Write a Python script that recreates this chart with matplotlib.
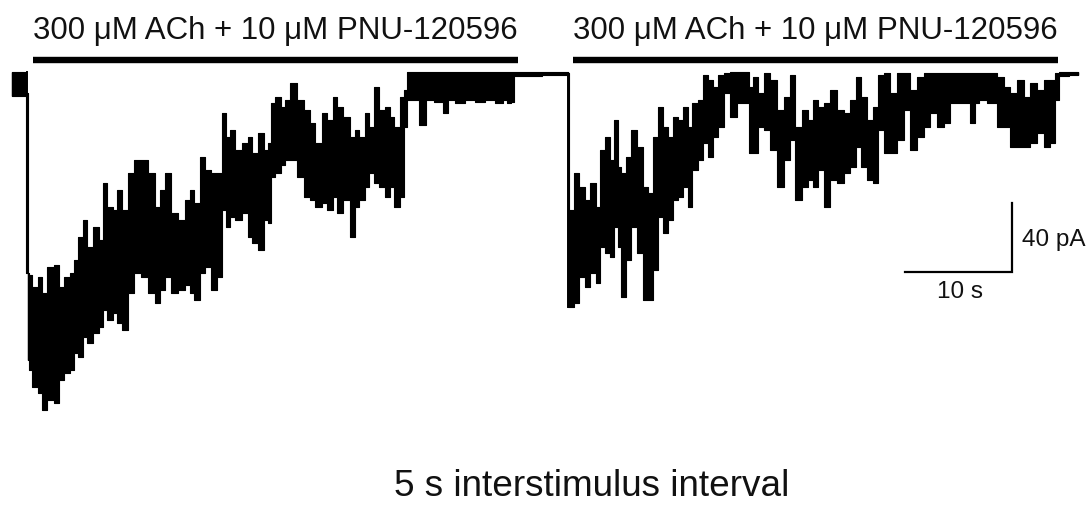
import matplotlib
matplotlib.use("Agg")
import matplotlib.pyplot as plt

# Sweep 1: time (s) and upper / lower envelope of the whole-cell current (pA)
t1 = [0.00, 1.31, 1.40, 1.50, 1.68, 2.15, 2.62, 3.08, 3.55, 4.21, 4.67, 5.14,
      5.61, 6.07, 6.36, 6.82, 7.29, 7.94, 8.41, 8.69, 9.16, 9.63, 10.09, 10.56,
      11.21, 11.68, 12.43, 13.08, 13.64, 14.11, 14.58, 15.23, 15.89, 16.36,
      16.82, 17.29, 17.76, 18.32, 18.97, 19.44, 19.72, 20.19, 20.65, 21.12,
      21.78, 22.24, 22.71, 23.18, 23.83, 24.11, 24.39, 24.86, 25.33, 25.70,
      26.26, 26.92, 27.57, 28.04, 28.60, 29.25, 29.72, 30.19, 30.65, 31.31,
      31.78, 32.24, 32.71, 33.18, 33.64, 34.11, 34.58, 35.05, 35.51, 35.98,
      36.45, 36.73, 37.01, 37.66, 38.41, 38.88, 40.00, 40.47, 40.93, 41.87,
      42.80, 43.74, 44.67, 45.61, 46.07, 46.54, 46.82, 47.01, 51.96]
hi1 = [0.6, 0.6, -11.6, -116.3, -117.4, -124.4, -118.6, -127.9, -112.8, -111.6,
       -124.4, -118.6, -116.3, -108.7, -95.3, -85.5, -101.2, -89.5, -97.1, -64.0,
       -77.9, -79.7, -68.0, -79.7, -58.1, -50.6, -50.6, -58.1, -77.9, -68.0,
       -58.1, -81.4, -85.5, -73.8, -68.0, -75.6, -48.8, -56.4, -58.1, -58.1,
       -23.3, -37.2, -33.1, -44.8, -40.7, -37.2, -46.5, -34.9, -44.8, -40.7,
       -17.4, -14.0, -19.8, -15.7, -5.8, -15.7, -21.5, -29.1, -40.7, -23.3,
       -27.3, -14.0, -19.8, -25.6, -37.2, -33.1, -37.2, -23.3, -31.4, -8.1,
       -21.5, -19.8, -25.6, -31.4, -14.0, -9.9, 0.6, 0.6, 0.6, 0.6,
       0.6, 0.6, 0.6, 0.6, 0.6, 0.6, 0.6, 0.6, 0.6, 0.6,
       0.6, 0.6, 0.6]
lo1 = [-13.4, -13.4, -116.3, -166.9, -172.7, -182.6, -186.0, -195.9, -190.1,
       -191.9, -178.5, -174.4, -172.7, -162.8, -165.1, -153.5, -157.0, -151.2,
       -147.7, -137.8, -143.6, -139.5, -145.3, -149.4, -127.9, -116.3, -118.6,
       -127.9, -133.7, -126.2, -118.6, -127.9, -126.2, -123.3, -127.9, -132.0,
       -116.3, -112.8, -126.2, -118.6, -79.7, -89.5, -83.7, -85.5, -81.4, -95.3,
       -98.8, -102.9, -85.5, -87.2, -60.5, -58.1, -53.5, -50.6, -50.6, -60.5,
       -72.1, -73.8, -77.9, -75.6, -79.7, -72.1, -81.4, -73.8, -95.3, -77.9,
       -73.8, -66.3, -58.1, -64.0, -66.3, -72.1, -66.3, -77.9, -72.1, -31.4,
       -15.7, -15.7, -30.2, -15.7, -16.9, -23.3, -15.7, -17.4, -15.7, -16.9,
       -15.7, -17.4, -15.7, -17.4, -16.9, -1.7, -1.2]

# Sweep 2: time (s) and upper / lower envelope of the whole-cell current (pA)
t2 = [51.96, 52.15, 52.80, 53.27, 53.74, 54.30, 54.77, 55.14, 55.61, 56.07,
      56.36, 56.82, 57.10, 57.57, 58.22, 58.69, 59.16, 59.63, 60.09, 60.56,
      61.03, 61.50, 61.96, 62.43, 62.90, 63.36, 63.83, 64.30, 64.77, 65.23,
      65.70, 66.17, 66.82, 67.38, 68.04, 68.69, 68.97, 69.44, 69.91, 70.56,
      71.12, 71.78, 72.43, 72.90, 73.46, 74.11, 74.58, 75.05, 75.51, 76.17,
      76.73, 77.38, 78.04, 78.60, 79.07, 79.53, 80.19, 80.65, 81.12, 81.78,
      82.34, 82.99, 83.64, 84.21, 84.86, 85.51, 86.07, 86.73, 87.38, 87.94,
      88.60, 89.25, 89.72, 90.19, 90.47, 91.68, 92.34, 92.99, 93.55, 94.21,
      94.86, 95.42, 96.07, 96.73, 97.29, 97.66, 97.94, 99.63]
hi2 = [0.0, -79.7, -58.1, -66.3, -73.8, -64.0, -77.9, -44.8, -37.2, -50.6,
       -27.3, -54.7, -58.1, -48.8, -33.1, -43.0, -66.3, -69.8, -37.2, -19.8,
       -31.4, -37.2, -25.6, -27.3, -19.8, -31.4, -17.4, -15.7, -1.2, -4.1,
       -8.1, -1.2, 0.0, 0.6, 0.6, 0.6, -8.1, -2.3, -11.6, 0.0,
       -4.1, -21.5, -14.0, -1.2, -31.4, -21.5, -27.3, -15.7, -19.8, -17.4,
       -9.9, -21.5, -23.3, -15.7, -2.3, -14.0, -27.3, -19.8, -1.2, 0.0,
       -11.6, 0.0, 0.0, -9.9, -2.3, 0.0, 0.0, 0.0, 0.0, 0.0,
       0.0, 0.0, 0.0, 0.0, 0.0, 0.0, -2.3, -8.1, -11.6, -4.1,
       -14.0, -5.8, -9.9, -4.1, -4.1, 0.0, 0.6, 0.6]
lo2 = [-136.0, -136.0, -133.7, -118.6, -124.4, -116.3, -122.1, -101.2, -104.7,
       -107.0, -89.5, -101.2, -130.2, -108.7, -89.5, -104.7, -132.0, -132.0,
       -114.5, -83.7, -93.0, -85.5, -73.8, -72.1, -66.3, -77.9, -56.4, -50.6,
       -40.7, -48.8, -37.2, -31.4, -11.6, -25.6, -17.4, -17.4, -46.5, -46.5,
       -31.4, -33.1, -44.8, -66.3, -50.6, -39.0, -73.8, -66.3, -62.2, -66.3,
       -56.4, -77.9, -62.2, -64.0, -58.1, -54.7, -43.0, -54.7, -62.2, -64.0,
       -33.1, -46.5, -46.5, -39.0, -21.5, -44.8, -37.2, -31.4, -23.3, -31.4,
       -29.1, -17.4, -17.4, -17.4, -29.1, -17.4, -15.7, -17.4, -31.4, -31.4,
       -43.0, -43.0, -43.0, -40.7, -34.9, -43.0, -40.7, -15.7, -1.7, -1.2]

# Agonist application bars
app_start = [1.96, 52.43]
app_len = 45.33
app_label = "300 \u03bcM ACh + 10 \u03bcM PNU-120596"

# Calibration bar
cal_t = 10     # s
cal_i = 40     # pA
cal_corner = (93.46, -115.7)

title = "5 s interstimulus interval"

plt.rcParams['font.family'] = ['Liberation Sans', 'DejaVu Sans']

fig = plt.figure(figsize=(10.92, 5.11), dpi=100)
ax = fig.add_axes([0, 0, 1, 1])
ax.set_xlim(-1.12, 100.93)
ax.set_ylim(-254.65, 42.44)
ax.axis('off')

for t, hi, lo in ((t1, hi1, lo1), (t2, hi2, lo2)):
    # current envelope drawn as a stepped band, as digitised sweeps appear
    ax.fill_between(t, lo, hi, step='mid', facecolor='black',
                    edgecolor='black', lw=0.8)
    # each sample as a thin vertical stroke from minimum to maximum
    ax.vlines(t, lo, hi, color='black', lw=1.0)

# sweep-2 onset drop
ax.plot([t2[0], t2[0]], [hi2[0], lo2[0]], color='black', lw=1.4)
# sweep-1 onset drop
ax.plot([t1[2], t1[2]], [hi1[1], lo1[2]], color='black', lw=1.4)

for s in app_start:
    ax.plot([s, s + app_len], [7.27, 7.27], color='black', lw=4.6,
            solid_capstyle='butt')
    ax.text(s + app_len / 2, 24.4, app_label, ha='center', va='center',
            fontsize=22.5, color='#111111')

ct, ci = cal_corner
ax.plot([ct - cal_t, ct, ct], [ci, ci, ci + cal_i], color='black', lw=1.6,
        solid_joinstyle='miter')
ax.text(ct + 0.9, ci + cal_i / 2 - 1.5, f"{cal_i} pA", ha='left', va='center',
        fontsize=17.5, color='#111111')
ax.text(ct - cal_t / 2 + 0.15, ci - 11.8, f"{cal_t} s", ha='center',
        va='center', fontsize=17.5, color='#111111')

fig.text(592 / 1092, 1 - 486 / 511, title, ha='center', va='center',
         fontsize=26.6, color='#111111')

fig.savefig("out.png", dpi=100)
